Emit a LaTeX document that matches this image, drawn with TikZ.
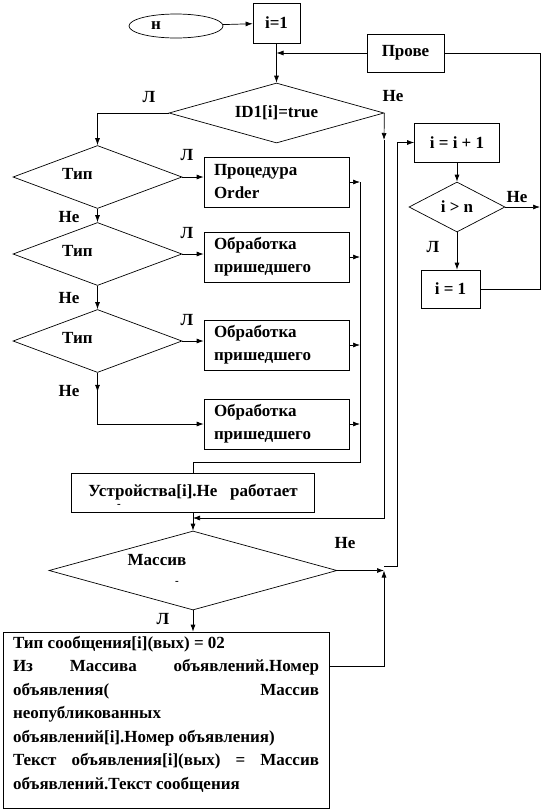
\documentclass[tikz,border=0pt]{standalone}
\usepackage{fontspec}
\setmainfont{Liberation Serif}
\usetikzlibrary{shapes.geometric,arrows.meta}

\begin{document}
\begin{tikzpicture}[x=1pt,y=-1pt,line width=0.7pt,>={Latex[length=7pt,width=5pt]},
  every node/.style={font=\fontsize{17}{23}\selectfont\bfseries,inner sep=0pt},
  blk/.style={draw,rectangle},
  dec/.style={draw,diamond},
  term/.style={draw,ellipse}]
  \useasboundingbox (0,0) rectangle (543,812);

  % top row
  \node[term,minimum width=94,minimum height=24,label={[xshift=-20pt]center:н}] (start) at (176,26) {};
  \node[blk,minimum width=47,minimum height=40] (one) at (276.5,23) {i=1};
  \node[blk,minimum width=77,minimum height=38] (chk) at (405.5,53) {Прове};
  \node[dec,minimum width=215,minimum height=60,label={center:ID1[i]=true}] (id) at (276.5,113) {};

  % type checks
  \foreach \k/\y in {1/177,2/254,3/341}
    \node[dec,minimum width=169,minimum height=63,label={[xshift=-20pt,yshift=3pt]center:Тип}] (t\k) at (97.5,\y) {};
  \foreach \k/\y/\txt in {1/182/{Процедура\\Order},2/257/{Обработка\\пришедшего},3/345/{Обработка\\пришедшего},4/424/{Обработка\\пришедшего}}
    \node[blk,minimum width=145,minimum height=50,text width=125pt,align=left] (b\k) at (276.5,\y) {\txt};

  \node[blk,minimum width=243,minimum height=39] (dev) at (193,492.5) {Устройства[i].Не\ \ \ работает};
  \node[font=\fontsize{11}{11}\selectfont\bfseries] (devdash) at (119,506) {-};

  \node[dec,minimum width=288,minimum height=79,label={[xshift=-36pt,yshift=10pt]center:Массив},
    label={[xshift=-16pt,yshift=-12pt,font=\fontsize{11}{11}\selectfont\bfseries]center:-}] (mas) at (193,570.5) {};
  \node[blk,minimum width=326,minimum height=176,inner xsep=10pt] (act) at (166,720) {\parbox[c][176pt][t]{306pt}{\fontsize{17}{23.5}\selectfont\vspace*{4pt}%
    Тип сообщения[i](вых) = 02\\
    Из\hfill Массива\hfill объявлений.Номер\\
    объявления(\hfill Массив\\
    неопубликованных\\
    объявлений[i].Номер объявления)\\
    Текст\hfill объявления[i](вых)\hfill =\hfill Массив\\
    объявлений.Текст сообщения}};

  % counter loop
  \node[blk,minimum width=85,minimum height=39] (inc) at (457,142.5) {i = i + 1};
  \node[dec,minimum width=96,minimum height=50,label={center:i > n}] (gt) at (457,207) {};
  \node[blk,minimum width=59,minimum height=38] (rst) at (450.5,289) {i = 1};

  \coordinate (back) at (540,53);
  \coordinate (cdown) at (384,140);
  \coordinate (merge) at (384,518);
  \coordinate (col) at (360,462);
  \coordinate (up) at (384,570.5);
  \coordinate (loop) at (397,566);

  \draw[->] (start) -- (one);
  \draw[->] (one) -- (id);
  \draw[->] (chk) -- (chk -| one);
  \draw (rst.east) -| (back) -- (chk.east);
  \draw[->] (gt.east) -- (gt.east -| back);
  \draw[->] (inc.south) -- (gt.north);
  \draw[->] (gt.south) -- (gt.south |- rst.north);
  \draw[->] (loop -| up) -- (loop) |- (inc.west);

  \draw[->] (id.west) -| (t1.north);
  \draw[->] (id.east) -- (cdown);
  \draw[->] (cdown) -- (merge) -- (merge -| mas.north);

  \foreach \k in {1,2,3}
    \draw[->] (t\k.east) -- (t\k.east -| b\k.west);
  \draw[->] (t1.south) -- (t2.north);
  \draw[->] (t2.south) -- (t3.north);
  \draw[->] (t3.south) -- ++(0,19);
  \draw[->] (t3.south) |- (b4.west);
  \foreach \k in {1,...,4}
    \draw[->] (b\k.east) -- (b\k.east -| col);
  \draw (b1.east -| col) -- (col) -| (dev.north);

  \draw[->] (dev.south) -- (mas.north);
  \draw[->] (mas.east) -- (up);
  \draw[->] (mas.south) -- (mas.south |- act.north);
  \draw[->] ([yshift=-35pt]act.north east) -| (up);

  % branch labels
  \node (idyes) at (149,97) {Л};
  \node (idno) at (393,96) {Не};
  \foreach \k/\y in {1/155,2/233,3/320}
    \node (yes\k) at (187,\y) {Л};
  \foreach \k/\y in {1/217,2/298,3/391}
    \node (no\k) at (69,\y) {Не};
  \node (gtno) at (517,197) {Не};
  \node (gtyes) at (433,247) {Л};
  \node (masno) at (345,543) {Не};
  \node (masyes) at (163,619) {Л};
\end{tikzpicture}
\end{document}
